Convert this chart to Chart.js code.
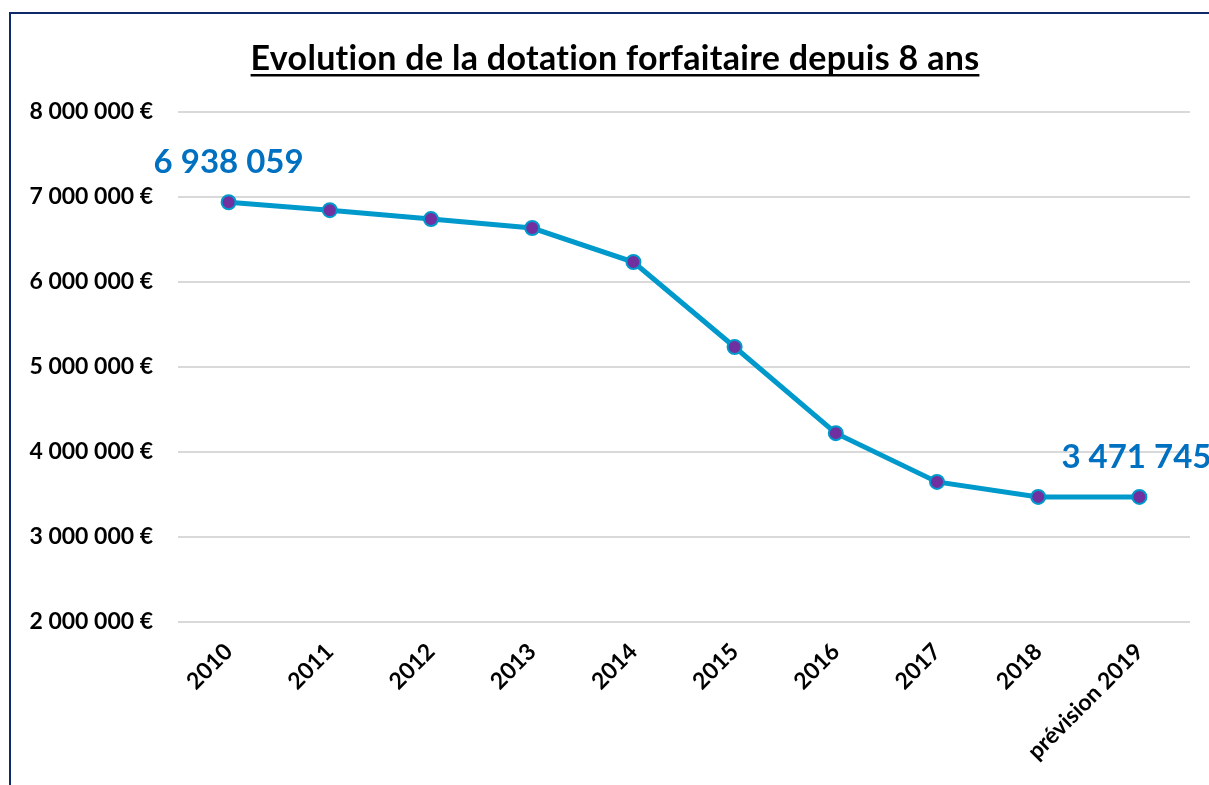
<!DOCTYPE html>
<html>
<head>
<meta charset="utf-8">
<script src="https://cdn.jsdelivr.net/npm/chart.js@4/dist/chart.umd.min.js"></script>
<style>
  html, body { margin: 0; padding: 0; background: #fff; }
  #wrap { position: relative; width: 1209px; height: 785px; overflow: hidden; }
  #frame { position: absolute; left: 9px; top: 12px; width: 1300px; height: 900px;
           border-left: 2px solid #10296b; border-top: 2px solid #10296b; }
  canvas { position: absolute; left: 0; top: 0; }
</style>
</head>
<body>
<div id="wrap">
  <div id="frame"></div>
  <canvas id="c" width="1209" height="785"></canvas>
</div>
<script>
// valeurs
var years = ['2010', '2011', '2012', '2013', '2014', '2015', '2016', '2017', '2018', 'prévision 2019'];
var dotation = [6938059, 6845000, 6740000, 6635000, 6235000, 5235000, 4222000, 3648000, 3472000, 3471745];
var yTicks = [2000000, 3000000, 4000000, 5000000, 6000000, 7000000, 8000000];

var FONT = 'Lato, "Open Sans", sans-serif';

function fmt(n) {
  return String(n).replace(/\B(?=(\d{3})+(?!\d))/g, ' ');
}

// titre souligné
var titlePlugin = {
  id: 'titre',
  afterDraw: function(chart) {
    var ctx = chart.ctx;
    var txt = 'Evolution de la dotation forfaitaire depuis 8 ans';
    ctx.save();
    ctx.font = 'bold 34px ' + FONT;
    ctx.letterSpacing = '0.3px'; // pas de ligature "ti"
    ctx.fillStyle = '#000';
    ctx.textAlign = 'center';
    ctx.textBaseline = 'alphabetic';
    var cx = 615, by = 70;
    ctx.fillText(txt, cx, by);
    var w = ctx.measureText(txt).width;
    ctx.fillRect(cx - w / 2, by + 4, w, 2.5);
    ctx.restore();
  }
};

// étiquettes de la première et de la dernière valeur
var labelPlugin = {
  id: 'etiquettes',
  afterDatasetsDraw: function(chart) {
    var ctx = chart.ctx;
    var pts = chart.getDatasetMeta(0).data;
    ctx.save();
    ctx.font = 'bold 33px ' + FONT;
    ctx.fillStyle = '#0070c0';
    ctx.textAlign = 'center';
    ctx.textBaseline = 'middle';
    [0, pts.length - 1].forEach(function(i) {
      var p = pts[i];
      var dx = i === 0 ? 0 : -3;
      ctx.fillText(fmt(dotation[i]), p.x + dx, p.y - 40);
    });
    ctx.restore();
  }
};

new Chart(document.getElementById('c'), {
  type: 'line',
  data: {
    labels: years,
    datasets: [{
      data: dotation,
      borderColor: '#0099cc',
      borderWidth: 5,
      pointBackgroundColor: '#7030a0',
      pointBorderColor: '#0099cc',
      pointBorderWidth: 2,
      pointRadius: 7,
      tension: 0,
      clip: false
    }]
  },
  options: {
    responsive: false,
    animation: false,
    layout: { padding: { top: 112, right: 19, left: 0, bottom: 0 } },
    plugins: { legend: { display: false }, tooltip: { enabled: false } },
    scales: {
      x: {
        offset: true,
        grid: { display: false },
        border: { display: false },
        ticks: {
          minRotation: 45, maxRotation: 45, padding: 8,
          color: '#000', font: { family: FONT, size: 23, weight: 'bold' }
        },
        afterFit: function(s) { s.height = 163; }
      },
      y: {
        min: 2000000, max: 8000000,
        afterBuildTicks: function(s) { s.ticks = yTicks.map(function(v) { return { value: v }; }); },
        grid: { color: '#d9d9d9', lineWidth: 2, drawTicks: false },
        border: { display: false },
        ticks: {
          padding: 25, color: '#000',
          font: { family: FONT, size: 23, weight: 'bold' },
          callback: function(v) { return fmt(v) + ' €'; }
        },
        afterFit: function(s) { s.width = 178; }
      }
    }
  },
  plugins: [titlePlugin, labelPlugin]
});
</script>
</body>
</html>
